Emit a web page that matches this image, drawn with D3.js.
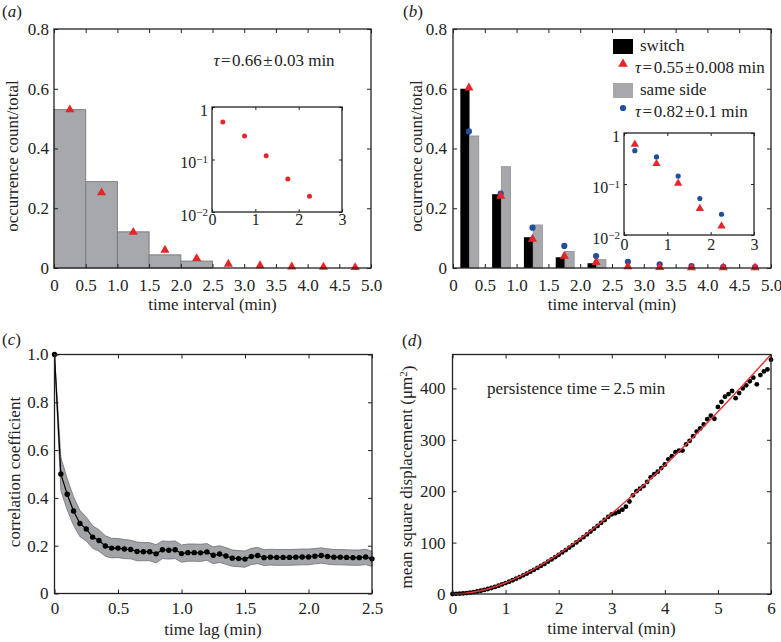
<!DOCTYPE html>
<html><head><meta charset="utf-8">
<script src="https://cdn.jsdelivr.net/npm/d3@7"></script>
<style>
html,body{margin:0;padding:0;background:#fff;}
svg{display:block;font-family:"Liberation Serif","Times New Roman",serif;}
</style></head><body>
<svg id="chart" width="781" height="642"></svg>
<script>
// ---------- data ----------
const binCenters = [0.25,0.75,1.25,1.75,2.25,2.75,3.25,3.75,4.25,4.75];
const binWidth = 0.5;
const xTicksAB = [0,0.5,1.0,1.5,2.0,2.5,3.0,3.5,4.0,4.5,5.0];
const yTicksAB = [0,0.2,0.4,0.6,0.8];

// panel (a)
const histA = [0.53,0.289,0.121,0.044,0.023,0,0,0,0,0];
const fitA  = [0.53,0.252,0.12,0.06,0.032,0.013,0.008,0.004,0.003,0.002];
const insetTimes = [0.25,0.75,1.25,1.75,2.25];
const insetA = [0.52,0.28,0.118,0.0425,0.020];

// panel (b)
const histSwitch = [0.60,0.247,0.103,0.036,0.016,0,0,0,0,0];
const histSame   = [0.442,0.339,0.144,0.055,0.028,0,0,0,0,0];
const fitSwitch  = [0.603,0.241,0.097,0.04,0.019,0.005,0.002,0.001,0.001,0.001];
const fitSame    = [0.457,0.249,0.135,0.074,0.04,0.021,0.012,0.006,0.004,0.003];
const insetSwitch = [0.6,0.25,0.103,0.033,0.015];
const insetSame   = [0.45,0.34,0.143,0.052,0.0255];

// panel (c)
const lagTimes = d3.range(51).map(i => i*0.05);
const corr = [1.0,0.50,0.415,0.345,0.293,0.27,0.236,0.222,0.199,0.19,
  0.19,0.186,0.184,0.176,0.175,0.175,0.166,0.183,0.181,0.183,
  0.167,0.171,0.171,0.170,0.174,0.160,0.165,0.157,0.148,0.146,
  0.144,0.155,0.159,0.150,0.152,0.151,0.151,0.151,0.152,0.153,
  0.153,0.156,0.159,0.155,0.152,0.152,0.151,0.150,0.150,0.153,0.145];
const corrErr = [0,0.07,0.065,0.06,0.055,0.05,0.047,0.045,0.043,0.041,
  0.04,0.04,0.039,0.039,0.038,0.038,0.038,0.037,0.037,0.037,
  0.036,0.036,0.036,0.036,0.035,0.035,0.035,0.035,0.034,0.034,
  0.034,0.034,0.034,0.033,0.033,0.033,0.033,0.033,0.033,0.033,
  0.033,0.032,0.032,0.032,0.032,0.032,0.032,0.032,0.032,0.032,0.032];
const xTicksC = [0,0.5,1.0,1.5,2.0,2.5];
const yTicksC = [0,0.2,0.4,0.6,0.8,1.0];

// panel (d): one point every 4 s
const msdTimes = d3.range(91).map(k => k/15);
const msd = [0,0.3,0.6,1.1,1.8,2.6,3.6,4.9,6.3,7.9,
  9.7,11.7,13.8,16.1,18.6,21.2,23.9,26.8,29.8,33.0,
  36.3,39.8,43.4,47.0,50.8,54.8,58.8,63.0,67.3,71.7,
  76.2,80.8,85.5,90.3,95.2,100.3,105.5,110.6,116.0,121.5,
  127.0,132.5,138.5,144.0,150.0,155.0,157.0,160.0,164.0,170.0,
  180.0,192.0,200.0,205.0,210.0,218.0,227.0,233.0,238.0,245.0,
  252.0,262.0,268.0,276.0,279.0,279.0,291.0,298.0,307.0,316.0,
  322.0,330.0,340.0,347.0,341.0,364.0,374.0,384.0,389.0,395.0,
  381.0,391.0,400.0,406.0,414.0,421.0,408.0,426.0,433.0,437.0,456.0];
const fitTimes = [0,0.25,0.5,0.75,1,1.25,1.5,1.75,2,2.25,2.5,2.75,3,3.25,3.5,3.75,4,4.25,4.5,4.75,5,5.25,5.5,5.75,6];
const fitMSD = [0,1.5,5.9,12.8,22.0,33.3,46.5,61.4,77.9,95.8,115.0,135.3,156.6,178.9,202.1,226.0,250.6,275.8,301.7,328.0,354.8,382.0,409.6,437.6,465.9];
const xTicksD = [0,1,2,3,4,5,6];
const yTicksD = [0,100,200,300,400];

// ---------- drawing ----------
const svg = d3.select("#chart");
const FS = 17, INK = "#222", RED = "#e3262b", BLUE = "#1f4f9e", GREY = "#a6a8ab";

function frame(g, x, y, o) {
  const [x0,x1] = x.range(), [y0,y1] = y.range(); // y0 bottom, y1 top
  const tk = o.tick || 4;
  const fs = o.fs || FS;
  const style = sel => {
    sel.select(".domain").remove();
    sel.selectAll(".tick line").attr("stroke", INK).attr("stroke-width", 1);
    sel.selectAll("text").attr("font-size", fs).attr("fill", INK)
       .attr("font-family", "Liberation Serif, Times New Roman, serif");
    sel.attr("font-family", null).attr("font-size", null);
  };
  g.append("g").attr("transform", `translate(0,${y0})`)
    .call(d3.axisBottom(x).tickValues(o.xt).tickFormat(o.xf).tickSize(-tk).tickPadding(o.xpad)).call(style);
  g.append("g").attr("transform", `translate(0,${y1})`)
    .call(d3.axisTop(x).tickValues(o.xt).tickFormat("").tickSize(-tk)).call(style);
  const la = g.append("g").attr("transform", `translate(${x0},0)`)
    .call(d3.axisLeft(y).tickValues(o.yt).tickFormat(o.yf).tickSize(-tk).tickPadding(o.ypad)).call(style);
  g.append("g").attr("transform", `translate(${x1},0)`)
    .call(d3.axisRight(y).tickValues(o.yt).tickFormat("").tickSize(-tk)).call(style);
  g.append("rect").attr("x", x0).attr("y", y1).attr("width", x1-x0).attr("height", y0-y1)
    .attr("fill", "none").attr("stroke", INK).attr("stroke-width", 1.3);
  return la;
}

function panelLabel(x, y, letter) {
  const t = svg.append("text").attr("x", x).attr("y", y).attr("font-size", FS).attr("fill", INK);
  t.append("tspan").text("(");
  t.append("tspan").attr("font-style", "italic").text(letter);
  t.append("tspan").text(")");
}
function yTitle(x, y, build) {
  const t = svg.append("text").attr("transform", `translate(${x},${y}) rotate(-90)`)
    .attr("text-anchor", "middle").attr("font-size", FS).attr("fill", INK);
  build(t);
}
function xTitle(x, y, s) {
  svg.append("text").attr("x", x).attr("y", y).attr("text-anchor", "middle")
    .attr("font-size", FS).attr("fill", INK).text(s);
}
function tauText(g, x, y, parts, anchor) {
  const t = g.append("text").attr("x", x).attr("y", y).attr("font-size", FS).attr("fill", INK)
    .attr("text-anchor", anchor || "start");
  t.append("tspan").attr("font-style", "italic").text("\u03C4");
  t.append("tspan").attr("dx", 1.5).text("=");
  t.append("tspan").attr("dx", 1.5).text(parts[0]);
  t.append("tspan").attr("dx", 1.5).text("\u00B1");
  t.append("tspan").attr("dx", 1.5).text(parts[1] + " min");
}
function logLabels(axisG) {
  axisG.selectAll(".tick text").each(function(d) {
    const t = d3.select(this).text("").attr("dy", "0.5em").attr("font-size", 16);
    if (d === 1) { t.text("1"); return; }
    const e = Math.round(Math.log10(d));
    t.append("tspan").text("10");
    t.append("tspan").attr("dy", "-0.45em").attr("font-size", 11).text("\u2212" + (-e));
  });
}
const tri = d3.symbol(d3.symbolTriangle);

// ===== panel (a) =====
{
  const g = svg.append("g");
  const x = d3.scaleLinear().domain([0,5]).range([54,371]);
  const y = d3.scaleLinear().domain([0,0.8]).range([268,29]);
  g.selectAll("rect.bar").data(binCenters.map((c,i)=>({c, v:histA[i]})).filter(d=>d.v>0))
    .enter().append("rect")
    .attr("x", d => x(d.c - binWidth/2)).attr("width", d => x(d.c + binWidth/2) - x(d.c - binWidth/2))
    .attr("y", d => y(d.v)).attr("height", d => y(0) - y(d.v))
    .attr("fill", GREY).attr("stroke", "#7c7e81").attr("stroke-width", 1);
  g.selectAll("path.tri").data(binCenters.map((c,i)=>({c, v:fitA[i]}))).enter().append("path")
    .attr("d", tri.size(36)()).attr("fill", RED)
    .attr("transform", d => `translate(${x(d.c)},${y(d.v)})`);
  frame(g, x, y, {xt:xTicksAB, xf:d=>d===0?"0":d3.format(".1f")(d), yt:yTicksAB, yf:d=>d===0?"0":d3.format(".1f")(d), xpad:11, ypad:5});
  tauText(g, 274, 66, ["0.66","0.03"], "middle");

  // inset
  const gi = svg.append("g");
  const xi = d3.scaleLinear().domain([0,3]).range([212,342]);
  const yi = d3.scaleLog().domain([0.01,1]).range([212,107]);
  gi.append("rect").attr("x",212).attr("y",107).attr("width",130).attr("height",105).attr("fill","#fff");
  gi.selectAll("circle").data(insetTimes.map((t,i)=>({t, v:insetA[i]}))).enter().append("circle")
    .attr("cx", d=>xi(d.t)).attr("cy", d=>yi(d.v)).attr("r", 2.5).attr("fill", RED);
  const la = frame(gi, xi, yi, {xt:[0,1,2,3], xf:d3.format("d"), yt:[0.01,0.1,1], yf:d=>"", xpad:2, ypad:4, fs:16, tick:3});
  logLabels(la);
}

// ===== panel (b) =====
{
  const g = svg.append("g");
  const x = d3.scaleLinear().domain([0,5]).range([453,771]);
  const y = d3.scaleLinear().domain([0,0.8]).range([268,29]);
  const rows = binCenters.map((c,i)=>({c, s:histSwitch[i], m:histSame[i], fs:fitSwitch[i], fm:fitSame[i]}));
  g.selectAll("rect.sw").data(rows.filter(d=>d.s>0)).enter().append("rect")
    .attr("x", d=>x(d.c-0.135)).attr("width", d=>x(d.c+0.01)-x(d.c-0.135))
    .attr("y", d=>y(d.s)).attr("height", d=>y(0)-y(d.s)).attr("fill", "#000");
  g.selectAll("rect.ss").data(rows.filter(d=>d.m>0)).enter().append("rect")
    .attr("x", d=>x(d.c+0.01)).attr("width", d=>x(d.c+0.155)-x(d.c+0.01))
    .attr("y", d=>y(d.m)).attr("height", d=>y(0)-y(d.m)).attr("fill", GREY)
    .attr("stroke", "#8d8f92").attr("stroke-width", 0.8);
  g.selectAll("circle.fm").data(rows).enter().append("circle")
    .attr("cx", d=>x(d.c)).attr("cy", d=>y(d.fm)).attr("r", 3.1).attr("fill", BLUE);
  g.selectAll("path.fs").data(rows).enter().append("path")
    .attr("d", tri.size(36)()).attr("fill", RED)
    .attr("transform", d=>`translate(${x(d.c)},${y(d.fs)})`);
  frame(g, x, y, {xt:xTicksAB, xf:d=>d===0?"0":d3.format(".1f")(d), yt:yTicksAB, yf:d=>d===0?"0":d3.format(".1f")(d), xpad:11, ypad:6});

  // legend
  const lg = svg.append("g");
  lg.append("rect").attr("x",613).attr("y",39).attr("width",20).attr("height",15).attr("fill","#000");
  lg.append("text").attr("x",640).attr("y",51).attr("font-size",FS).attr("fill",INK).text("switch");
  lg.append("path").attr("d", tri.size(40)()).attr("fill",RED).attr("transform","translate(623,64)");
  tauText(lg, 635, 73, ["0.55","0.008"]);
  lg.append("rect").attr("x",613).attr("y",83).attr("width",20).attr("height",15).attr("fill",GREY);
  lg.append("text").attr("x",640).attr("y",95).attr("font-size",FS).attr("fill",INK).text("same side");
  lg.append("circle").attr("cx",623).attr("cy",108).attr("r",3.1).attr("fill",BLUE);
  tauText(lg, 635, 117, ["0.82","0.1"]);

  // inset
  const gi = svg.append("g");
  const xi = d3.scaleLinear().domain([0,3]).range([624,754]);
  const yi = d3.scaleLog().domain([0.01,1]).range([235,133]);
  gi.append("rect").attr("x",624).attr("y",133).attr("width",130).attr("height",102).attr("fill","#fff");
  const irows = insetTimes.map((t,i)=>({t, s:insetSwitch[i], m:insetSame[i]}));
  gi.selectAll("circle").data(irows).enter().append("circle")
    .attr("cx", d=>xi(d.t)).attr("cy", d=>yi(d.m)).attr("r", 2.6).attr("fill", BLUE);
  gi.selectAll("path").data(irows).enter().append("path")
    .attr("d", tri.size(30)()).attr("fill", RED)
    .attr("transform", d=>`translate(${xi(d.t)},${yi(d.s)})`);
  const la = frame(gi, xi, yi, {xt:[0,1,2,3], xf:d3.format("d"), yt:[0.01,0.1,1], yf:d=>"", xpad:4, ypad:4, fs:16, tick:3});
  logLabels(la);
}

// ===== panel (c) =====
{
  const g = svg.append("g");
  const x = d3.scaleLinear().domain([0,2.5]).range([54.5,372]);
  const y = d3.scaleLinear().domain([0,1]).range([593.5,354.5]);
  const rows = lagTimes.map((t,i)=>({t, v:corr[i], e:corrErr[i]}));
  g.append("path").datum(rows)
    .attr("d", d3.area().x(d=>x(d.t)).y0(d=>y(d.v-d.e)).y1(d=>y(d.v+d.e)))
    .attr("fill", "#a2a4a7").attr("stroke", "#6e7073").attr("stroke-width", 0.8);
  g.append("path").datum(rows)
    .attr("d", d3.line().x(d=>x(d.t)).y(d=>y(d.v)))
    .attr("fill", "none").attr("stroke", "#000").attr("stroke-width", 1.2);
  g.selectAll("circle").data(rows).enter().append("circle")
    .attr("cx", d=>x(d.t)).attr("cy", d=>y(d.v)).attr("r", 2.7).attr("fill", "#000");
  frame(g, x, y, {xt:xTicksC, xf:d=>d===0?"0":d3.format(".1f")(d), yt:yTicksC, yf:d=>d===0?"0":d3.format(".1f")(d), xpad:8, ypad:6});
}

// ===== panel (d) =====
{
  const g = svg.append("g");
  const x = d3.scaleLinear().domain([0,6]).range([452.5,771]);
  const y = d3.scaleLinear().domain([0,466]).range([594,354.5]);
  g.selectAll("circle").data(msdTimes.map((t,i)=>({t, v:msd[i]}))).enter().append("circle")
    .attr("cx", d=>x(d.t)).attr("cy", d=>y(d.v)).attr("r", 2.4).attr("fill", "#000");
  g.append("path").datum(fitTimes.map((t,i)=>({t, v:fitMSD[i]})))
    .attr("d", d3.line().x(d=>x(d.t)).y(d=>y(d.v)).curve(d3.curveMonotoneX))
    .attr("fill", "none").attr("stroke", "#e0393b").attr("stroke-width", 1.5);
  frame(g, x, y, {xt:xTicksD, xf:d3.format("d"), yt:yTicksD, yf:d3.format("d"), xpad:8, ypad:7});
  g.append("text").attr("x", 487).attr("y", 394).attr("font-size", FS).attr("fill", INK)
    .text("persistence time\u2009=\u20092.5 min");
}

// ===== labels & titles =====
panelLabel(2, 17, "a");
panelLabel(403, 17, "b");
panelLabel(2, 345, "c");
panelLabel(402, 346, "d");

yTitle(18, 156, t => t.text("occurrence count/total"));
yTitle(422, 156, t => t.text("occurrence count/total"));
yTitle(19.5, 472, t => t.text("correlation coefficient"));
yTitle(411.5, 477, t => {
  t.append("tspan").text("mean square displacement (\u03BCm");
  t.append("tspan").attr("dy", "-0.45em").attr("font-size", 11).text("2");
  t.append("tspan").attr("dy", "0.45em").text(")");
});
xTitle(212.5, 310, "time interval (min)");
xTitle(612, 310, "time interval (min)");
xTitle(213, 635, "time lag (min)");
xTitle(611.5, 634, "time interval (min)");
</script>
</body></html>
